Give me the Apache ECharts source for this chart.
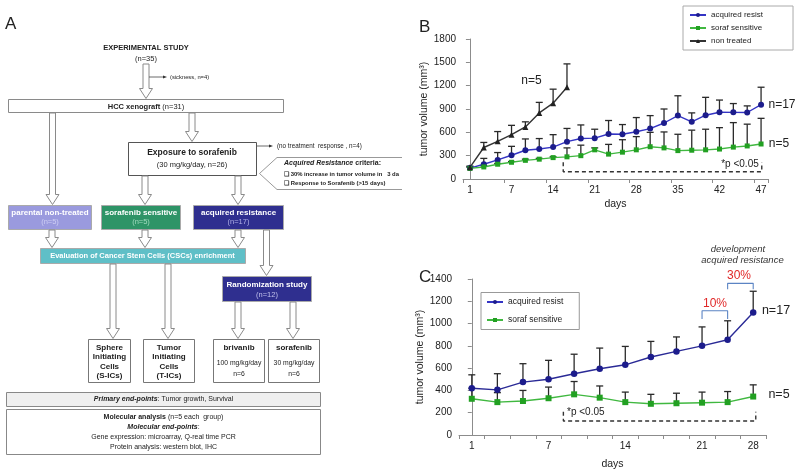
<!DOCTYPE html>
<html><head><meta charset="utf-8">
<script src="https://cdn.jsdelivr.net/npm/echarts@6/dist/echarts.min.js"></script>
<style>html,body{margin:0;padding:0;background:#fff}#c{width:800px;height:475px}</style>
</head><body><div id="c"></div>
<script>
const FONT = '"Liberation Sans", Arial, sans-serif';

// ---------- Panel B data ----------
const bDays = [1,3,5,7,9,12,14,16,19,21,23,26,28,30,33,35,37,40,42,44,46,47];
const bTickLabels = [1,7,14,21,28,35,42,47];
const bResist    = [140,190,245,305,370,385,410,480,520,525,578,575,608,648,720,815,735,820,858,857,855,955];
const bResistErr = [160,265,340,420,515,520,570,650,695,640,752,700,790,815,900,1070,850,1050,1015,970,940,1180];
const bSens      = [137,155,190,215,240,255,275,285,300,375,320,345,375,415,400,365,370,375,385,410,425,450];
const bSensErr   = [150,170,200,225,255,265,285,400,435,400,445,505,545,600,605,575,628,640,660,725,705,780];
const bNon       = [150,405,485,570,670,850,975,1180];
const bNonErr    = [165,470,610,690,735,985,1155,1480];
const bPBracket  = [[6.73,214],[6.73,94],[21.05,94],[21.05,214]];

// ---------- Panel C data ----------
const cDays = [1,3,5,7,9,12,14,16,19,21,24,28];
const cTickLabels = [1,7,14,21,28];
const cResist    = [420,405,475,500,550,595,630,700,750,800,855,1100];
const cResistErr = [540,550,640,670,725,780,795,840,880,970,1025,1290];
const cSens      = [325,295,305,330,365,335,295,280,285,290,295,345];
const cSensErr   = [420,380,400,430,480,440,385,365,375,385,390,450];
const cPBracket  = [[3.58,209],[3.58,126],[11.1,126],[11.1,209]];
const c10Bracket = [[9,1041],[9,1115],[10,1115],[10,1041]];
const c30Bracket = [[10,1307],[10,1361],[11,1361],[11,1307]];

const BLUE_L = '#3434c4', BLUE_M = '#1c1c8c', GREEN_L = '#40b840', GREEN_M = '#22a022', BLK = '#222';

function errSeries(name, vals, tops, xi, yi, color) {
  return { type:'custom', name, xAxisIndex:xi, yAxisIndex:yi, z:1, silent:true,
    data: vals.map((v,i)=>[i, v, tops[i]]),
    encode:{x:0, y:[1,2]},
    renderItem:(p, api)=>{
      const i = api.value(0);
      const a = api.coord([i, api.value(1)]);
      const b = api.coord([i, api.value(2)]);
      const w = 3.5;
      return {type:'group', children:[
        {type:'line', shape:{x1:a[0],y1:a[1],x2:b[0],y2:b[1]}, style:{stroke:color,lineWidth:1.3}},
        {type:'line', shape:{x1:b[0]-w,y1:b[1],x2:b[0]+w,y2:b[1]}, style:{stroke:color,lineWidth:1.3}}
      ]};
    }
  };
}
function lineSeries(name, vals, xi, yi, lc, mc, sym, size) {
  return { type:'line', name, xAxisIndex:xi, yAxisIndex:yi, z:3, data: vals,
    symbol: sym, symbolSize: size, showAllSymbol:true,
    lineStyle:{color:lc, width:1.4}, itemStyle:{color:mc} };
}
function bracket(data, xi, yi, color, dashed) {
  return { type:'line', xAxisIndex:xi, yAxisIndex:yi, data, symbol:'none', silent:true, z:2,
    lineStyle:{color, width: dashed?1.4:1.1, type: dashed?[4,3]:'solid'} };
}

// ---------- Panel A graphics ----------
const G = [];
const box = (x,y,w,h,fill,stroke) => G.push({type:'rect', shape:{x,y,width:w,height:h},
  style:{fill:fill||'#fff', stroke:stroke||'#8a8a8a', lineWidth:1}});
const t = (x,y,text,o={}) => G.push({type:'text', x, y, style:Object.assign({text, fill:'#222',
  fontFamily:FONT, fontSize:7.5, align:'center', textAlign:'center', verticalAlign:'middle', textVerticalAlign:'middle'}, o)});
const arrow = (cx,y0,y1) => { const s=3, h=6.5, hl=10;
  G.push({type:'polygon', shape:{points:[[cx-s,y0],[cx+s,y0],[cx+s,y1-hl],[cx+h,y1-hl],[cx,y1],[cx-h,y1-hl],[cx-s,y1-hl]]},
    style:{fill:'#fff', stroke:'#8a8a8a', lineWidth:1}}); };
const side = (x0,x1,y) => {
  G.push({type:'line', shape:{x1:x0,y1:y,x2:x1-3,y2:y}, style:{stroke:'#444', lineWidth:0.8}});
  G.push({type:'polygon', shape:{points:[[x1-4,y-1.6],[x1,y],[x1-4,y+1.6]]}, style:{fill:'#333'}});
};
const left = {align:'left', textAlign:'left'};
const richA = {
  b:{fontWeight:'bold', fontFamily:FONT, fontSize:7.5, fill:'#222'},
  n:{fontFamily:FONT, fontSize:7.5, fill:'#222'},
  bi:{fontWeight:'bold', fontStyle:'italic', fontFamily:FONT, fontSize:7.5, fill:'#222'}
};

t(5, 24, 'A', Object.assign({fontSize:17}, left));
t(146, 48, 'EXPERIMENTAL STUDY', {fontWeight:'bold', fontSize:7.5});
t(146, 58.5, '(n=35)', {fontSize:7.5});
arrow(146, 64, 98.5);
side(149, 167, 77);
t(170, 77, '(sickness, n=4)', Object.assign({fontSize:5.8}, left));
box(8.5, 99.5, 275, 13);
t(146, 106.5, '{b|HCC xenograft} {n|(n=31)}', {rich:richA});
arrow(192, 113, 141.5);
arrow(52.5, 113, 204.5);
box(128.5, 142.5, 128, 33, '#fff', '#555');
t(192, 153, 'Exposure to sorafenib', {fontWeight:'bold', fontSize:8.5});
t(192, 165, '(30 mg/kg/day, n=26)', {fontSize:7.5});
side(257, 273, 146);
t(277, 146, '(no treatment  response , n=4)', Object.assign({fontSize:6.3}, left));
G.push({type:'polyline', shape:{points:[[402,157.5],[277,157.5],[259.5,173.5],[277,189.5],[402,189.5]]},
  style:{fill:null, stroke:'#999', lineWidth:1}});
t(284, 163, '{bi|Acquired Resistance} {b|criteria:}', Object.assign({rich:{
  bi:{fontWeight:'bold', fontStyle:'italic', fontFamily:FONT, fontSize:7, fill:'#222'},
  b:{fontWeight:'bold', fontFamily:FONT, fontSize:7, fill:'#222'}}}, left));
t(284, 174, '\u2751 30% increase in tumor volume in   3 days', Object.assign({fontSize:5.9, fontWeight:'bold',
  width:116, overflow:'truncate', ellipsis:''}, left));
t(284, 183, '\u2751 Response to Sorafenib (>15 days)', Object.assign({fontSize:5.9, fontWeight:'bold'}, left));

arrow(145, 176, 204.5);
arrow(238, 176, 204.5);
box(8.5, 205.5, 83, 24, '#9a9ade', '#aaa');
t(50, 212.5, 'parental non-treated', {fill:'#fff', fontWeight:'bold', fontSize:8});
t(50, 222, '(n=5)', {fill:'#cfcff4', fontSize:7.5});
box(101.5, 205.5, 79, 24, '#2e9467', '#aaa');
t(141, 212.5, 'sorafenib sensitive', {fill:'#fff', fontWeight:'bold', fontSize:8});
t(141, 222, '(n=5)', {fill:'#a3dcc0', fontSize:7.5});
box(193.5, 205.5, 90, 24, '#2f2f8f', '#aaa');
t(238.5, 212.5, 'acquired resistance', {fill:'#fff', fontWeight:'bold', fontSize:8});
t(238.5, 222, '(n=17)', {fill:'#b0b0e6', fontSize:7.5});

arrow(52, 230, 247.5);
arrow(145, 230, 247.5);
arrow(238, 230, 247.5);
arrow(266.5, 230, 275.5);
box(40.5, 248.5, 205, 15, '#5fbfc7', '#aaa');
t(142.5, 256, 'Evaluation of Cancer Stem Cells (CSCs) enrichment', {fill:'#fff', fontWeight:'bold', fontSize:7.5});
box(222.5, 276.5, 89, 25, '#2f2f8f', '#aaa');
t(267, 284.5, 'Randomization study', {fill:'#fff', fontWeight:'bold', fontSize:8});
t(267, 294.5, '(n=12)', {fill:'#c0c0ec', fontSize:7.5});

arrow(113, 264, 338.5);
arrow(168, 264, 338.5);
arrow(238, 302, 338.5);
arrow(293, 302, 338.5);
box(88.5, 339.5, 42, 43, '#fff', '#777');
box(143.5, 339.5, 51, 43, '#fff', '#777');
box(213.5, 339.5, 51, 43, '#fff', '#777');
box(268.5, 339.5, 51, 43, '#fff', '#777');
[['Sphere',347.3],['Initiating',357],['Cells',366.3],['(S-ICs)',376]].forEach(([s,y])=>t(109.5,y,s,{fontWeight:'bold',fontSize:8}));
[['Tumor',347.3],['Initiating',357],['Cells',366.3],['(T-ICs)',376]].forEach(([s,y])=>t(169,y,s,{fontWeight:'bold',fontSize:8}));
t(239, 347.3, 'brivanib', {fontWeight:'bold', fontSize:8});
t(239, 363, '100 mg/kg/day', {fontSize:6.8});
t(239, 374.5, 'n=6', {fontSize:6.8});
t(294, 347.3, 'sorafenib', {fontWeight:'bold', fontSize:8});
t(294, 363, '30 mg/kg/day', {fontSize:6.8});
t(294, 374.5, 'n=6', {fontSize:6.8});

box(6.5, 392.5, 314, 14, '#efefef', '#888');
t(163.5, 399.5, '{bi|Primary end-points}{n|: Tumor growth, Survival}', {rich:{
  bi:{fontWeight:'bold', fontStyle:'italic', fontFamily:FONT, fontSize:7, fill:'#222'},
  n:{fontFamily:FONT, fontSize:7, fill:'#222'}}});
box(6.5, 409.5, 314, 45, '#fff', '#888');
const richM = {b:{fontWeight:'bold', fontFamily:FONT, fontSize:7, fill:'#222'},
  n:{fontFamily:FONT, fontSize:7, fill:'#222'},
  bi:{fontWeight:'bold', fontStyle:'italic', fontFamily:FONT, fontSize:7, fill:'#222'}};
t(163.5, 417.3, '{b|Molecular analysis} {n|(n=5 each  group)}', {rich:richM});
t(163.5, 427.5, '{bi|Molecular end-points}{n|:}', {rich:richM});
t(163.5, 437.3, 'Gene expression: microarray, Q-real time PCR', {fontSize:7});
t(163.5, 447.3, 'Protein analysis: western blot, IHC', {fontSize:7});

// ---------- Panel B/C annotations ----------
t(419, 27, 'B', Object.assign({fontSize:17}, left));
t(419, 277, 'C', Object.assign({fontSize:17}, left));
t(531.5, 80.7, 'n=5', {fontSize:12});
t(782, 104.3, 'n=17', {fontSize:12});
t(779, 144, 'n=5', {fontSize:12});
t(740, 164, '*p <0.05', {fontSize:10});
t(567, 412.7, '*p <0.05', Object.assign({fontSize:10}, left));
t(738, 249, 'development', {fontSize:9.5, fontStyle:'italic', fill:'#333'});
t(742.5, 260, 'acquired resistance', {fontSize:9.5, fontStyle:'italic', fill:'#333'});
t(739, 276, '30%', {fontSize:12, fill:'#e02828'});
t(715, 304, '10%', {fontSize:12, fill:'#e02828'});
t(776, 311, 'n=17', {fontSize:12.5});
t(779, 395, 'n=5', {fontSize:12.5});

// ---------- axes ----------
const axisCommon = {
  axisLine:{show:true, lineStyle:{color:'#8c8c8c', width:1}},
  axisTick:{show:true, length:4, lineStyle:{color:'#8c8c8c'}},
  splitLine:{show:false},
  nameTextStyle:{color:'#222', fontSize:10.5, fontFamily:FONT}
};
const catAxis = (gi, days, ticks, tickInt, gap) => Object.assign({}, axisCommon, {
  type:'category', gridIndex:gi, data:days, boundaryGap:true,
  name:'days', nameLocation:'middle', nameGap:gap,
  axisTick:{show:true, length:4, interval:tickInt, lineStyle:{color:'#8c8c8c'}},
  axisLabel:{color:'#222', fontSize:10, fontFamily:FONT, interval:0, margin:6,
    formatter:v => ticks.map(String).includes(String(v)) ? String(v) : ''}
});
const hidX = (gi, n) => ({type:'value', gridIndex:gi, min:-0.5, max:n-0.5, show:false});
const valY = (gi, max, step, gap) => Object.assign({}, axisCommon, {
  type:'value', gridIndex:gi, min:0, max, interval:step,
  name:'tumor volume (mm\u00b3)', nameLocation:'middle', nameGap:gap,
  axisLabel:{color:'#222', fontSize:10, fontFamily:FONT, margin:7, formatter:v => String(v)}
});

const option = {
  animation:false,
  textStyle:{fontFamily:FONT},
  grid:[
    {left:463, top:39, width:305, height:140},
    {left:459, top:279, width:307, height:156}
  ],
  xAxis:[
    catAxis(0, bDays, bTickLabels, (i)=> i%3===0, 20),
    hidX(0, bDays.length),
    catAxis(1, cDays, cTickLabels, 0, 24),
    hidX(1, cDays.length)
  ],
  yAxis:[ valY(0, 1800, 300, 25), valY(1, 1400, 200, 23) ],
  legend:[
    {left:683, top:6, orient:'vertical', data:['acquired resist','soraf sensitive','non treated'],
     borderColor:'#aaa', borderWidth:1, padding:[5,30,5,6], itemGap:5, itemWidth:16, itemHeight:5,
     textStyle:{fontSize:8, fontFamily:FONT, color:'#222'}, selectedMode:false},
    {left:481, top:292.5, orient:'vertical', data:['acquired resist','soraf sensitive'],
     borderColor:'#999', borderWidth:1, padding:[5,16,5,5], itemGap:9, itemWidth:16, itemHeight:5,
     textStyle:{fontSize:8.5, fontFamily:FONT, color:'#222'}, selectedMode:false}
  ],
  series:[
    errSeries('errB1', bResist, bResistErr, 0, 0, '#2a2a2a'),
    errSeries('errB2', bSens, bSensErr, 0, 0, '#2a2a2a'),
    errSeries('errB3', bNon, bNonErr, 0, 0, '#2a2a2a'),
    lineSeries('acquired resist', bResist, 0, 0, BLUE_L, BLUE_M, 'circle', 6),
    lineSeries('soraf sensitive', bSens, 0, 0, GREEN_L, GREEN_M, 'rect', 5),
    lineSeries('non treated', bNon, 0, 0, '#333', BLK, 'triangle', 6),
    bracket(bPBracket, 1, 0, '#333', true),

    errSeries('errC1', cResist, cResistErr, 2, 1, '#2a2a2a'),
    errSeries('errC2', cSens, cSensErr, 2, 1, '#2a2a2a'),
    lineSeries('acquired resist', cResist, 2, 1, '#2a2a96', BLUE_M, 'circle', 6.5),
    lineSeries('soraf sensitive', cSens, 2, 1, GREEN_L, GREEN_M, 'rect', 6),
    bracket(cPBracket, 3, 1, '#333', true),
    bracket(c10Bracket, 3, 1, '#5b84c4', false),
    bracket(c30Bracket, 3, 1, '#5b84c4', false)
  ],
  graphic: G
};
const chart = echarts.init(document.getElementById('c'), null, {renderer:'canvas'});
chart.setOption(option);
</script>
</body></html>
